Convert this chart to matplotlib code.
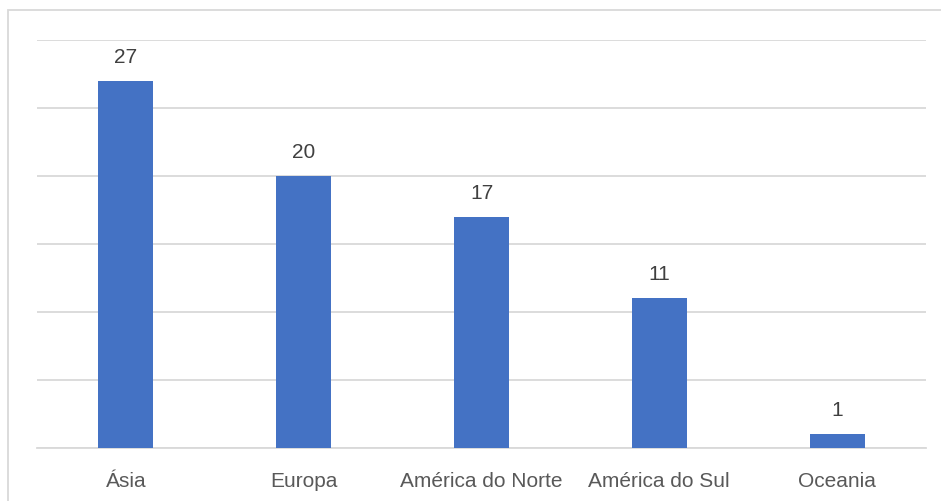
import matplotlib.pyplot as plt
import matplotlib.patches as patches

categories = ['Ásia', 'Europa', 'América do Norte', 'América do Sul', 'Oceania']
values = [27, 20, 17, 11, 1]

plt.rcParams['font.family'] = ['Liberation Sans', 'DejaVu Sans']

fig = plt.figure(figsize=(9.41, 5.02), dpi=100)
ax = fig.add_axes([37 / 941, 53 / 502, 889 / 941, 408 / 502])

x = range(len(categories))
ax.bar(x, values, width=0.31, color='#4472C4', zorder=3)

# rótulos de dados acima das barras
for i, v in enumerate(values):
    ax.annotate(str(v), (i, v), xytext=(0, 11), textcoords='offset points',
                ha='center', va='bottom', fontsize=15, color='#404040')

ax.set_xlim(-0.5, len(categories) - 0.5)
ax.set_ylim(0, 30)
ax.set_yticks(range(0, 31, 5))
ax.yaxis.grid(True, color='#D9D9D9', linewidth=1.3, zorder=0)
ax.tick_params(axis='y', left=False, labelleft=False)
ax.tick_params(axis='x', bottom=False, labelsize=15, labelcolor='#595959', pad=13)
ax.set_xticks(list(x))
ax.set_xticklabels(categories)
for s in ['top', 'right', 'left']:
    ax.spines[s].set_visible(False)
ax.spines['bottom'].set_color('#D9D9D9')
ax.spines['bottom'].set_linewidth(1.3)

# borda do gráfico
fig.patches.append(patches.Rectangle((7.5 / 941, -0.05), 1.0, (502 - 11) / 502 + 0.05,
                                     transform=fig.transFigure, fill=False,
                                     edgecolor='#D9D9D9', linewidth=1.3))

fig.savefig('out.png', dpi=100)
